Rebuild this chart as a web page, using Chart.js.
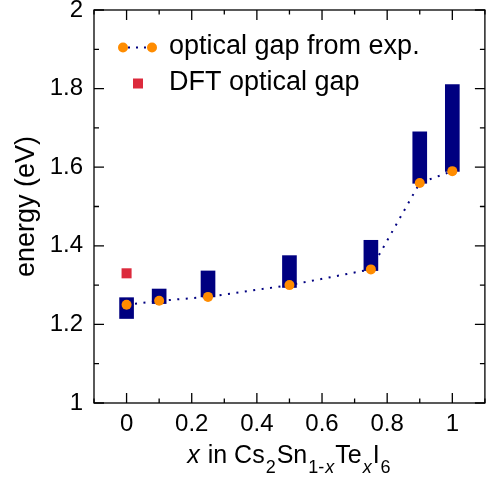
<!DOCTYPE html>
<html>
<head>
<meta charset="utf-8">
<script src="https://cdn.jsdelivr.net/npm/chart.js@4.4.1/dist/chart.umd.min.js"></script>
<style>
  html, body { margin: 0; padding: 0; background: #fff; overflow: hidden; }
  #wrap { width: 492px; height: 480px; }
</style>
</head>
<body>
<div id="wrap"><canvas id="gapChart" width="492" height="480"></canvas></div>
<script>
// Te fraction x and the measured gaps
const xValues = [0, 0.1, 0.25, 0.5, 0.75, 0.9, 1];
const expGap = [1.25, 1.26, 1.27, 1.30, 1.34, 1.56, 1.59];
// spread of the experimental gap (floating bars)
const rangeLow = [1.215, 1.253, 1.27, 1.294, 1.337, 1.559, 1.589];
const rangeHigh = [1.268, 1.29, 1.336, 1.375, 1.414, 1.69, 1.81];
// DFT value at x = 0
const dftX = [0];
const dftGap = [1.33];

const xTicks = [0, 0.2, 0.4, 0.6, 0.8, 1];
const yTicks = [1, 1.2, 1.4, 1.6, 1.8, 2];

const FONT = "'Liberation Sans', Arial, Helvetica, sans-serif";
const NAVY = '#000080';
const ORANGE = '#ff8c00';
const RED = '#dc2a3c';

// frame, inward ticks on all four sides, legend and the x title with subscripts
const decorations = {
    id: 'decorations',
    afterDraw(chart) {
        const ctx = chart.ctx;
        const a = chart.chartArea;
        const xs = chart.scales.x, ys = chart.scales.y;
        ctx.save();
        ctx.strokeStyle = '#000';
        ctx.lineWidth = 1.3;
        ctx.strokeRect(a.left, a.top, a.right - a.left, a.bottom - a.top);

        ctx.beginPath();
        for (let i = -1; i <= 11; i++) {
            const px = xs.getPixelForValue(i / 10);
            const len = (i % 2 === 0) ? 10 : 4.5;
            ctx.moveTo(px, a.bottom); ctx.lineTo(px, a.bottom - len);
            ctx.moveTo(px, a.top); ctx.lineTo(px, a.top + len);
        }
        for (let i = 0; i <= 10; i++) {
            const py = ys.getPixelForValue(1 + i / 10);
            const len = (i % 2 === 0) ? 10 : 5;
            ctx.moveTo(a.left, py); ctx.lineTo(a.left + len, py);
            ctx.moveTo(a.right, py); ctx.lineTo(a.right - len, py);
        }
        ctx.stroke();

        // legend
        ctx.strokeStyle = NAVY;
        ctx.lineWidth = 2;
        ctx.setLineDash([2, 6]);
        ctx.beginPath();
        ctx.moveTo(128, 47.5); ctx.lineTo(148, 47.5);
        ctx.stroke();
        ctx.setLineDash([]);
        ctx.fillStyle = ORANGE;
        [123, 152].forEach(cx => {
            ctx.beginPath(); ctx.arc(cx, 47.5, 5, 0, Math.PI * 2); ctx.fill();
        });
        ctx.fillStyle = RED;
        ctx.fillRect(133, 78.5, 10, 10);
        ctx.font = '27px ' + FONT;
        ctx.fillStyle = '#000';
        ctx.textBaseline = 'alphabetic';
        ctx.textAlign = 'left';
        ctx.fillText('optical gap from exp.', 169, 54);
        ctx.fillText('DFT optical gap', 169, 90);

        // x title: x in Cs2Sn1-xTexI6
        const parts = [
            ['x', true, false], [' in Cs', false, false], ['2', false, true],
            ['Sn', false, false], ['1-', false, true], ['x', true, true],
            ['Te', false, false], ['x', true, true], ['I', false, false], ['6', false, true]
        ];
        const fontFor = (it, sub) => (it ? 'italic ' : '') + (sub ? '18px ' : '25px ') + FONT;
        const gap = 1;
        let total = 0;
        parts.forEach(p => { ctx.font = fontFor(p[1], p[2]); total += ctx.measureText(p[0]).width + gap; });
        let x = (a.left + a.right) / 2 - total / 2;
        const base = 463;
        parts.forEach(p => {
            ctx.font = fontFor(p[1], p[2]);
            ctx.fillText(p[0], x, p[2] ? base + 10 : base);
            x += ctx.measureText(p[0]).width + gap;
        });
        ctx.restore();
    }
};

const ctx = document.getElementById('gapChart').getContext('2d');
new Chart(ctx, {
    type: 'bar',
    data: {
        datasets: [{
            type: 'line',
            label: 'optical gap from exp.',
            data: xValues.map((x, i) => ({ x: x, y: expGap[i] })),
            borderColor: NAVY,
            borderWidth: 2,
            borderDash: [2, 6.5],
            pointRadius: 5,
            pointBorderWidth: 0,
            pointBackgroundColor: ORANGE,
            fill: false,
            order: 1
        }, {
            type: 'line',
            label: 'DFT optical gap',
            data: dftX.map((x, i) => ({ x: x, y: dftGap[i] })),
            showLine: false,
            pointStyle: 'rect',
            pointRadius: 7.1,
            pointBorderWidth: 0,
            pointBackgroundColor: RED,
            order: 2
        }, {
            type: 'bar',
            label: 'range',
            data: xValues.map((x, i) => ({ x: x, y: [rangeLow[i], rangeHigh[i]] })),
            backgroundColor: NAVY,
            borderWidth: 0,
            barThickness: 14,
            order: 3
        }]
    },
    options: {
        responsive: false,
        animation: false,
        layout: { padding: { left: 0, right: 1, top: 10, bottom: 0 } },
        plugins: { legend: { display: false }, tooltip: { enabled: false } },
        scales: {
            x: {
                type: 'linear',
                min: -0.1,
                max: 1.1,
                offset: false,
                grid: { display: false, drawTicks: false },
                border: { display: false },
                afterBuildTicks: s => { s.ticks = xTicks.map(v => ({ value: v })); },
                afterFit: s => { s.height = 77; s.paddingLeft = 0; s.paddingRight = 0; },
                ticks: {
                    font: { family: FONT, size: 24 },
                    color: '#000',
                    padding: 7,
                    maxRotation: 0,
                    callback: v => String(+v.toFixed(2))
                }
            },
            y: {
                type: 'linear',
                min: 1,
                max: 2,
                grid: { display: false, drawTicks: false },
                border: { display: false },
                afterBuildTicks: s => { s.ticks = yTicks.map(v => ({ value: v })); },
                afterFit: s => { s.width = 94; s.paddingTop = 0; s.paddingBottom = 0; },
                title: {
                    display: true,
                    text: 'energy (eV)',
                    font: { family: FONT, size: 27 },
                    color: '#000',
                    padding: { top: 10, bottom: 0 }
                },
                ticks: {
                    font: { family: FONT, size: 24 },
                    color: '#000',
                    padding: 11,
                    callback: v => String(+v.toFixed(2))
                }
            }
        }
    },
    plugins: [decorations]
});
</script>
</body>
</html>
